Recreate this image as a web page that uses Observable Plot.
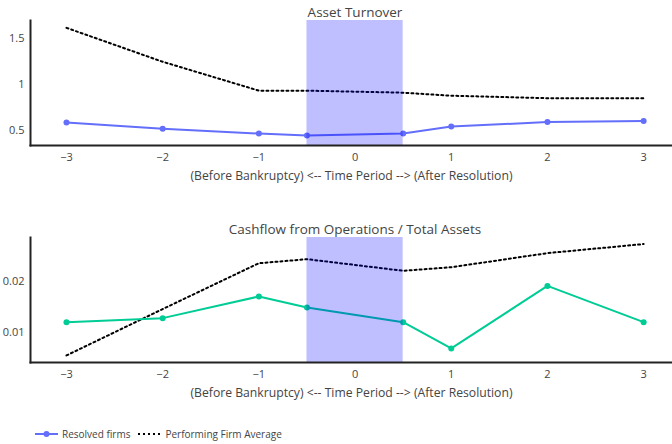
<!DOCTYPE html>
<html><head><meta charset="utf-8">
<script src="https://cdn.jsdelivr.net/npm/d3@7"></script>
<script src="https://cdn.jsdelivr.net/npm/@observablehq/plot@0.6"></script>
<style>
body{margin:0;background:#fff;font-family:"Open Sans",sans-serif;}
#wrap{position:relative;width:672px;height:444px;overflow:hidden;}
.panel{position:absolute;left:0;}
.title{position:absolute;width:672px;left:0;text-align:center;font-size:13.5px;color:#444;padding-left:38px;box-sizing:border-box;}
#legend{position:absolute;left:35px;top:427px;font-size:10px;color:#444;display:flex;align-items:center;}
#legend svg{margin-right:4px;}
</style></head>
<body><div id="wrap">
<div class="title" style="top:3px">Asset Turnover</div>
<div class="title" style="top:220px">Cashflow from Operations / Total Assets</div>
<div id="p1" class="panel" style="top:0"></div>
<div id="p2" class="panel" style="top:217px"></div>
<div id="legend"></div>
</div>
<script>
const periods = [-3, -2, -1, -0.5, 0.5, 1, 2, 3];
const turnoverResolved = [0.587, 0.52, 0.467, 0.446, 0.467, 0.543, 0.592, 0.603];
const turnoverPerforming = [1.62, 1.25, 0.935, 0.935, 0.913, 0.88, 0.853, 0.853];
const cashflowResolved = [0.012, 0.0128, 0.0171, 0.0149, 0.012, 0.0068, 0.0192, 0.012];
const cashflowPerforming = [0.0054, 0.0146, 0.0237, 0.0245, 0.0222, 0.0229, 0.0257, 0.0275];
const xTicks = [-3, -2, -1, 0, 1, 2, 3];
const shade = [{x1: -0.5, x2: 0.5}];
const xLabel = "(Before Bankruptcy) <-- Time Period --> (After Resolution)";

function panel(resolved, performing, color, yDomain, yTicks, yFmt) {
  const res = periods.map((p, i) => ({x: p, y: resolved[i]}));
  const perf = periods.map((p, i) => ({x: p, y: performing[i]}));
  return Plot.plot({
    width: 672, height: 190,
    marginTop: 20, marginBottom: 45, marginLeft: 30, marginRight: 0,
    style: {fontFamily: "Open Sans", fontSize: "11px", color: "#444", background: "transparent"},
    x: {domain: [-3.374, 3.30]},
    y: {domain: yDomain},
    marks: [
      Plot.axisX({ticks: xTicks, tickFormat: d => d < 0 ? "\u2212" + (-d) : String(d), tickSize: 0, tickPadding: 8, label: null}),
      Plot.text([xLabel], {frameAnchor: "bottom", dy: 34, fontSize: 12.2, fill: "#444"}),
      Plot.axisY({ticks: yTicks, tickFormat: yFmt, tickSize: 0, tickPadding: 6, label: null}),
      Plot.line(perf, {x: "x", y: "y", stroke: "black", strokeWidth: 2, strokeDasharray: "2,3"}),
      Plot.line(res, {x: "x", y: "y", stroke: color, strokeWidth: 2}),
      Plot.dot(res, {x: "x", y: "y", fill: color, r: 3}),
      Plot.rect(shade, {x1: "x1", x2: "x2", fill: "#0000ff", fillOpacity: 0.25}),
      Plot.frame({anchor: "left", stroke: "#222", strokeWidth: 2}),
      Plot.frame({anchor: "bottom", stroke: "#222", strokeWidth: 2})
    ]
  });
}

document.getElementById("p1").append(panel(turnoverResolved, turnoverPerforming, "#636efa", [0.337, 1.70], [0.5, 1, 1.5], d => String(d)));
document.getElementById("p2").append(panel(cashflowResolved, cashflowPerforming, "#00cc96", [0.004, 0.0288], [0.01, 0.02], d => d.toFixed(2)));

const legendItems = [
  {name: "Resolved firms", stroke: "#636efa", dash: null, dot: true},
  {name: "Performing Firm Average", stroke: "black", dash: "2,3", dot: false}
];
const lg = document.getElementById("legend");
legendItems.forEach((it, i) => {
  const ns = "http://www.w3.org/2000/svg";
  const s = document.createElementNS(ns, "svg");
  s.setAttribute("width", 23); s.setAttribute("height", 10);
  const l = document.createElementNS(ns, "line");
  l.setAttribute("x1", 0); l.setAttribute("x2", 23); l.setAttribute("y1", 5); l.setAttribute("y2", 5);
  l.setAttribute("stroke", it.stroke); l.setAttribute("stroke-width", 2);
  if (it.dash) l.setAttribute("stroke-dasharray", it.dash);
  s.append(l);
  if (it.dot) {
    const c = document.createElementNS(ns, "circle");
    c.setAttribute("cx", 11.5); c.setAttribute("cy", 5); c.setAttribute("r", 3); c.setAttribute("fill", it.stroke);
    s.append(c);
  }
  const t = document.createElement("span");
  t.textContent = it.name;
  t.style.marginRight = i === 0 ? "8px" : "0";
  lg.append(s, t);
});
</script></body></html>
